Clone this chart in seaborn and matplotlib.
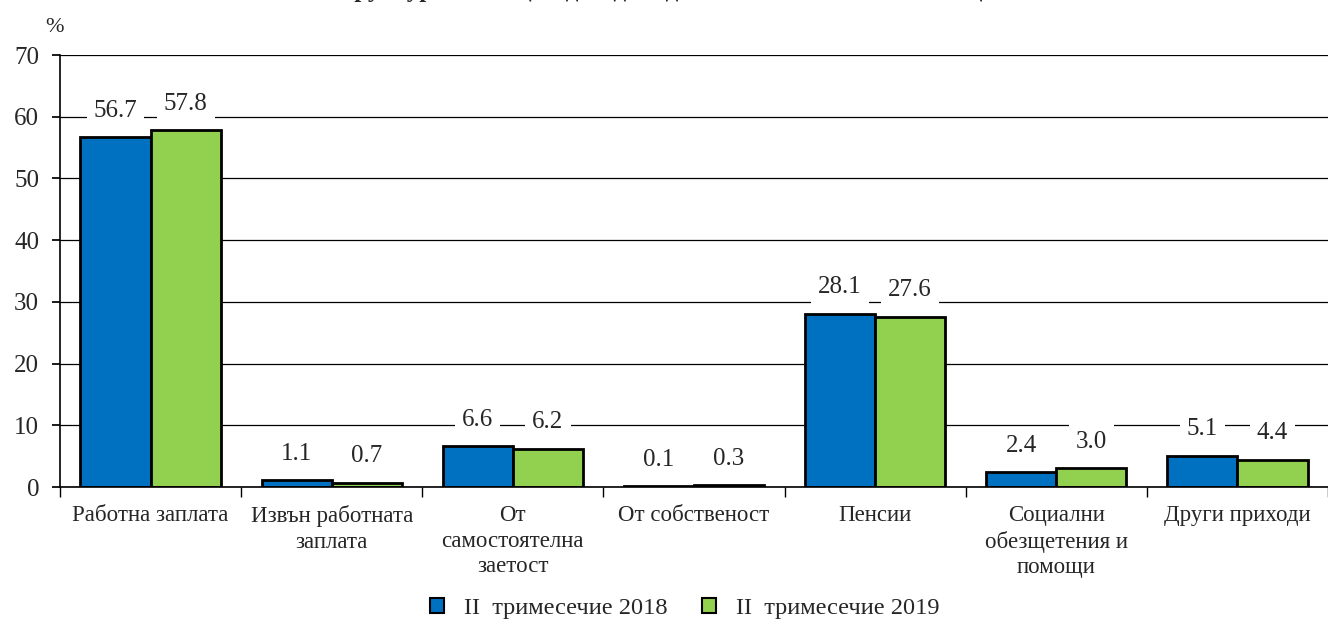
import numpy as np
import pandas as pd
import matplotlib
matplotlib.use("Agg")
import matplotlib.pyplot as plt
import seaborn as sns

categories = ["Работна заплата", "Извън работната\nзаплата", "От\nсамостоятелна\nзаетост",
              "От собственост", "Пенсии", "Социални\nобезщетения и\nпомощи", "Други приходи"]
series_names = ["II  тримесечие 2018", "II  тримесечие 2019"]
values_2018 = [56.7, 1.1, 6.6, 0.1, 28.1, 2.4, 5.1]
values_2019 = [57.8, 0.7, 6.2, 0.3, 27.6, 3.0, 4.4]
colors = ["#0070C0", "#92D050"]
title = "Структура на общия доход на домакинствата по източници"

df = pd.DataFrame({
    "cat": categories * 2,
    "series": [series_names[0]] * 7 + [series_names[1]] * 7,
    "value": values_2018 + values_2019,
})

sns.set_theme(style="white")
plt.rcParams["font.family"] = ["Liberation Serif", "DejaVu Serif"]

fig = plt.figure(figsize=(13.28, 6.19), dpi=100)
ax = fig.add_axes([60 / 1328, 132 / 619, 1268 / 1328, 432 / 619])

sns.barplot(data=df, x="cat", y="value", hue="series", palette=colors,
            width=0.775, gap=0, edgecolor="black", linewidth=2,
            saturation=1, legend=True, ax=ax, zorder=3)

ax.set_ylim(0, 70)
ax.set_xlim(-0.5, 6.5)
ax.set_yticks(np.arange(0, 71, 10))
ax.yaxis.grid(True, color="black", linewidth=0.9, zorder=0)
ax.set_axisbelow(True)
for s in ["top", "right"]:
    ax.spines[s].set_visible(False)
for s in ["left", "bottom"]:
    ax.spines[s].set_color("black")
    ax.spines[s].set_linewidth(1.2)
ax.spines["bottom"].set_zorder(5)

ax.tick_params(axis="y", labelsize=18, length=6, direction="out", left=True, color="black", pad=9)
ax.tick_params(axis="x", which="major", labelsize=16.5, length=0, pad=13)
for lbl in ax.get_xticklabels():
    lbl.set_linespacing(1.28)
ax.set_xticks(np.arange(-0.5, 7, 1), minor=True)
ax.tick_params(axis="x", which="minor", length=7, bottom=True, color="black", direction="out")
ax.set_xlabel("")
ax.set_ylabel("")

# value labels with white boxes that interrupt the grid
for container in ax.containers:
    for bar in container:
        h = bar.get_height()
        ax.annotate(f"{h:.1f}", (bar.get_x() + bar.get_width() / 2, h),
                    xytext=(0, 19), textcoords="offset points",
                    ha="center", va="center", fontsize=18, zorder=6,
                    bbox=dict(facecolor="white", edgecolor="none", pad=5))

fig.text(55 / 1328, 1 - 28 / 619, "%", fontsize=16, ha="center", va="center")
fig.text(660 / 1328, 1.0 + 3 / 619, title, fontsize=18, fontweight="bold",
         ha="center", va="baseline")

leg = ax.legend(loc="center", bbox_to_anchor=(0.4925, -0.281),
                ncol=2, frameon=False, fontsize=17.6, handlelength=0.6, handleheight=0.6,
                columnspacing=1.4, handletextpad=0.8)
for h in leg.legend_handles:
    h.set_edgecolor("black")
    h.set_linewidth(1.5)

fig.savefig("out.png", dpi=100)
